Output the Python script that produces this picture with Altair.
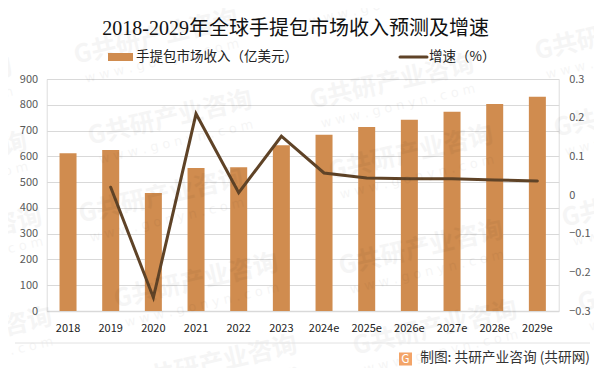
import altair as alt
import pandas as pd

years = ["2018","2019","2020","2021","2022","2023","2024e","2025e","2026e","2027e","2028e","2029e"]
revenue = [612,625,458,555,558,643,684,714,742,773,803,831]
growth = [None,0.02,-0.265,0.21,0.006,0.152,0.057,0.044,0.042,0.042,0.039,0.036]
wm_x = [156,392,170,617,380,-70,-55,636,421,196,-40,161,411,435,215,644,660,-30]
wm_y = [37,82,118,33,-20,85,160,110,248,281,235,196,153,328,363,200,285,335]

TITLE = "2018-2029年全球手提包市场收入预测及增速"
BAR = "手提包市场收入（亿美元）"
LINE = "增速（%）"
SOURCE = "制图: 共研产业咨询 (共研网)"
CJK = "Noto Sans CJK SC"
W, H = 512, 232
OX, OY = 46.7, 79  # plot origin on the page

df = pd.DataFrame({"year": years, "revenue": revenue, "growth": growth})
wm = pd.DataFrame({"x": [v - OX for v in wm_x], "y": [v - OY for v in wm_y]})
wm["url_y"] = wm["y"] + 24
wm["url_x"] = wm["x"] + 6
one = df.head(1)

xenc = alt.X("year:N", sort=years, title=None,
             scale=alt.Scale(paddingInner=0.6, paddingOuter=0.3),
             axis=alt.Axis(labelAngle=0, labelColor="#222222", labelFont=CJK, labelFontSize=11,
                           labelPadding=11, ticks=False, domainColor="#d9d9d9", domainWidth=1.3,
                           grid=False))

bars = alt.Chart(df).mark_bar(size=17, color="#d08c4f").encode(
    x=xenc,
    y=alt.Y("revenue:Q", title=None, scale=alt.Scale(domain=[0, 900]),
            axis=alt.Axis(values=list(range(0, 901, 100)), labelColor="#595959", labelFont=CJK,
                          labelFontSize=11, labelPadding=9, ticks=False, domain=False,
                          gridColor="#d9d9d9", gridWidth=1.2)),
)

line = alt.Chart(df).transform_filter("datum.growth !== null").mark_line(
    strokeWidth=3, strokeCap="round", strokeJoin="miter", color="#5f4327").encode(
    x=alt.X("year:N", sort=years, title=None),
    y=alt.Y("growth:Q", title=None, scale=alt.Scale(domain=[-0.3, 0.3]),
            axis=alt.Axis(orient="right", values=[-0.3,-0.2,-0.1,0,0.1,0.2,0.3], format="~g",
                          labelColor="#595959", labelFont=CJK, labelFontSize=11, labelPadding=10,
                          ticks=False, domain=False, grid=False)),
)

wm_main = alt.Chart(wm).mark_text(text="G共研产业咨询", font=CJK, fontSize=25, fontWeight="bold",
                                  angle=347, color="#000000", opacity=0.035).encode(
    x=alt.X("x:Q", scale=None), y=alt.Y("y:Q", scale=None))
wm_url = alt.Chart(wm).mark_text(text="w w w . g o n y n . c o m", font="DejaVu Sans", fontSize=13,
                                 angle=347, color="#000000", opacity=0.035).encode(
    x=alt.X("url_x:Q", scale=None), y=alt.Y("url_y:Q", scale=None))


def px(v):
    return alt.value(v - OX)


def py(v):
    return alt.value(v - OY)


def label(text, x, y, size, align="left", color="#222222", font=CJK):
    return alt.Chart(one).mark_text(text=text, font=font, fontSize=size, align=align,
                                    baseline="middle", color=color).encode(x=px(x), y=py(y))


title = label(TITLE, 295.6, 29, 20, align="center", color="#111111",
              font="Liberation Serif, Noto Sans CJK SC")
swatch = alt.Chart(one).mark_rect(color="#d08c4f").encode(x=px(108), x2=px(133), y=py(53), y2=py(61))
swatch_text = label(BAR, 136, 57, 13.5)
line_key = alt.Chart(one).mark_rule(color="#5f4327", strokeWidth=3, strokeCap="round").encode(
    x=px(400), x2=px(427), y=py(57))
line_text = label(LINE, 429, 57, 13.5)

sep = alt.Chart(one).mark_rule(color="#e2e2e2", strokeWidth=1).encode(x=px(15), x2=px(590), y=py(343))
logo = alt.Chart(one).mark_square(size=170, color="#f3a468", opacity=1, cornerRadius=2).encode(x=px(405.5), y=py(359))
logo_g = label("G", 405.5, 359, 12, align="center", color="#ffffff")
source = label(SOURCE, 590, 358, 13.7, align="right", color="#333333")

chart = alt.layer(bars, line, wm_main, wm_url, title, swatch, swatch_text, line_key, line_text,
                  sep, logo, logo_g, source).resolve_scale(y="independent").properties(
    width=W, height=H,
    autosize=alt.AutoSizeParams(type="none"),
    padding={"left": OX - 8, "top": OY - 8, "right": 602 - OX - W - 8, "bottom": 376 - OY - H - 8},
).configure_view(stroke=None).configure(background="#ffffff")

chart.save("out.html", embed_options={"renderer": "svg", "actions": False})
